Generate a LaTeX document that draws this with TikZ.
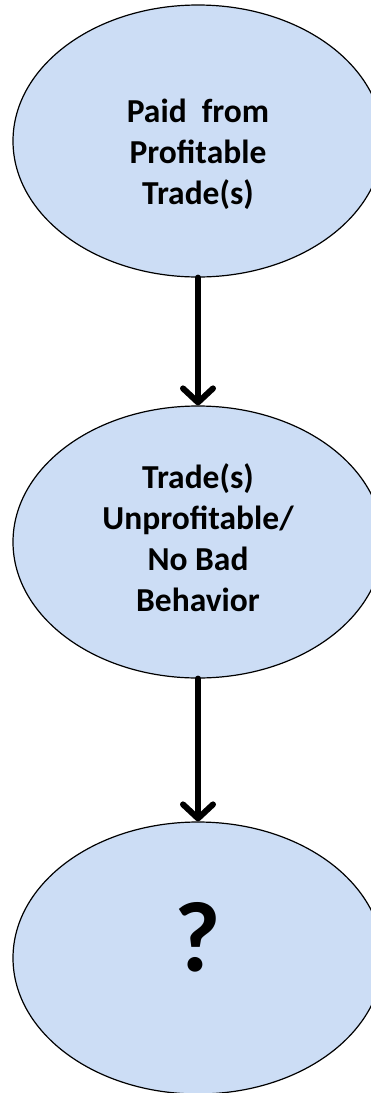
\documentclass[tikz,border=0pt]{standalone}
\usepackage{fontspec}
\setmainfont{Carlito}
\usetikzlibrary{arrows.meta,positioning,shapes.geometric}
\definecolor{stageblue}{HTML}{CCDDF5}

\begin{document}
\begin{tikzpicture}[x=1pt,y=-1pt,
stage/.style={ellipse,draw=black,fill=stageblue,line width=1.2pt,minimum width=370pt,minimum height=272pt,align=center,font=\fontsize{33.5}{41}\selectfont\bfseries,inner sep=0pt},
flow/.style={-{Straight Barb[round,length=14pt,width=30pt]},line width=6pt,line cap=round,draw=black}]
\useasboundingbox (0,0) rectangle (371,1093);
\node[stage] (paid) at (198,141) {\rule{0pt}{51pt}Paid\ \ from\\Profitable\\Trade(s)};
\node[stage] (unprof) at (198,542) {Trade(s)\\Unprofitable/\\No Bad\\Behavior\rule[-8pt]{0pt}{0pt}};
\node[stage,font=\fontsize{100}{110}\selectfont\bfseries] (unknown) at (198,958) {\rule[-42pt]{0pt}{0pt}?};
\draw[flow] (paid) -- (unprof);
\draw[flow] (unprof) -- (unknown);
\end{tikzpicture}
\end{document}
